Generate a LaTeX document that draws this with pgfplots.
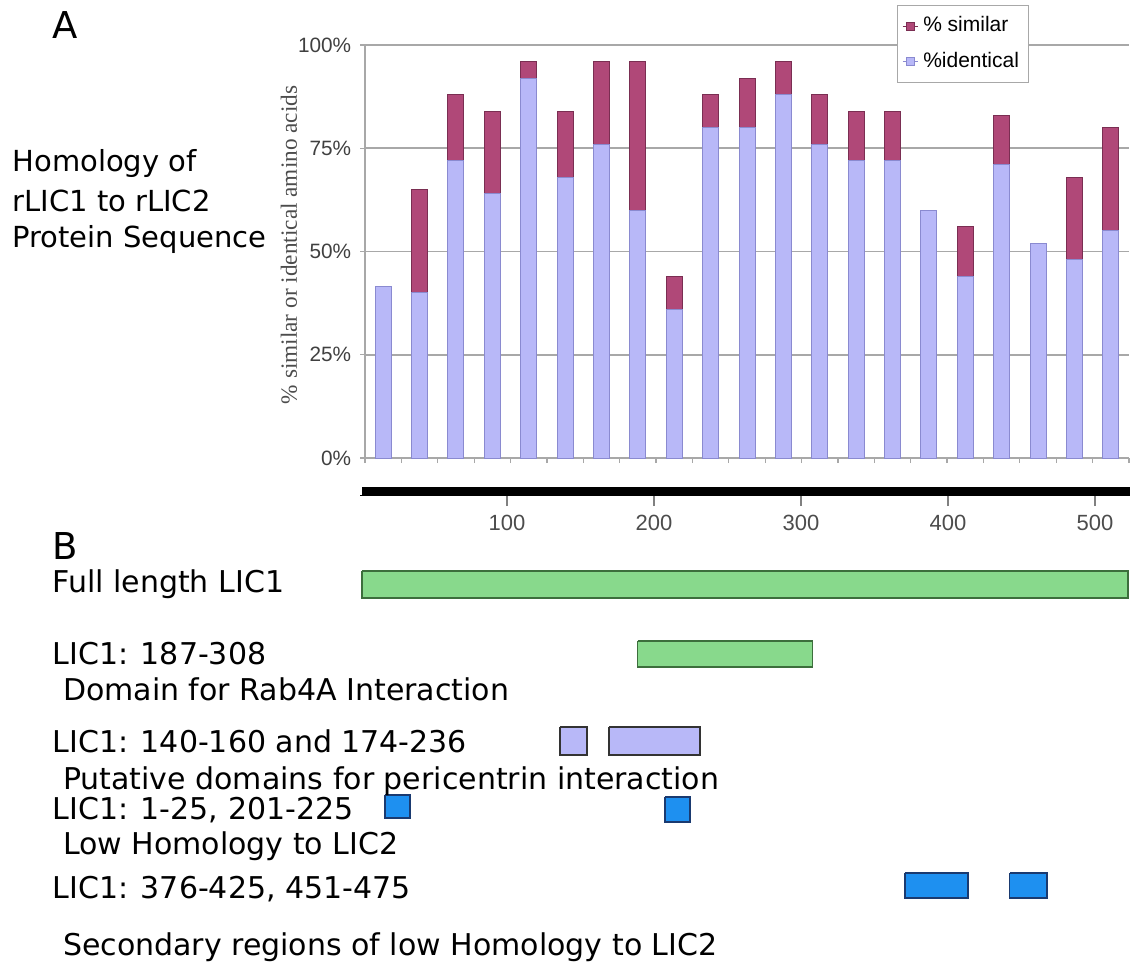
\documentclass[border=0pt]{standalone}
\usepackage{fontspec}
\setmainfont{DejaVu Sans}
\newfontfamily\arialf{Liberation Sans}
\newfontfamily\timesf{Liberation Serif}
\usepackage{pgfplots}
\pgfplotsset{compat=1.18}
\definecolor{simc}{HTML}{B04878}
\definecolor{simd}{HTML}{7A2E52}
\definecolor{idc}{HTML}{B8B8F8}
\definecolor{idd}{HTML}{8A8AD0}
\definecolor{grn}{HTML}{88D98C}
\definecolor{grnd}{HTML}{3C6E3C}
\definecolor{blu}{HTML}{1E90F0}
\definecolor{blud}{HTML}{1A3A70}
\definecolor{gridc}{HTML}{A8A8A8}
\pgfplotstableread{
x ident simil
1 41.5 0
2 40 25
3 72 16
4 64 20
5 92 4
6 68 16
7 76 20
8 60 36
9 36 8
10 80 8
11 80 12
12 88 8
13 76 12
14 72 12
15 72 12
16 60 0
17 44 12
18 71 12
19 52 0
20 48 20
21 55 25
}\homol
\newcommand\labfont{\fontsize{12}{14}\selectfont}
\newcommand\toplabfont{\fontsize{11.6}{14}\selectfont}
\begin{document}
\begin{tikzpicture}
\path[use as bounding box] (0,0) rectangle (452pt,388.8pt);
% ---------- Panel A ----------
\begin{axis}[
 at={(146pt,205.6pt)}, anchor=south west,
 scale only axis, width=305.6pt, height=165.2pt,
 xmin=0.5, xmax=21.5, ymin=0, ymax=100,
 ybar stacked, bar width=6.4pt,
 axis x line*=bottom, axis y line*=left,
 axis line style={gridc, line width=0.6pt},
 xtick={0.5,1.5,...,21.5}, xticklabels={},
 ytick={0,25,50,75,100}, yticklabels={0\%,25\%,50\%,75\%,100\%},
 tick align=outside, major tick length=2pt,
 tick style={gridc, line width=0.5pt},
 ymajorgrids, grid style={gridc, line width=0.6pt},
 yticklabel style={font=\arialf\fontsize{8.3}{9}\selectfont, text=black!75},
 ylabel={\% similar or identical amino acids},
 every axis y label/.style={at={(axis description cs:-0.0995,0.516)}, rotate=90, anchor=center,
   font=\timesf\fontsize{9.3}{10}\selectfont, text=black!70},
 legend style={at={(0.696,1.097)}, anchor=north west, draw=gridc,
   font=\arialf\fontsize{8.4}{10}\selectfont, row sep=2.6pt, inner xsep=2pt, inner ysep=2.5pt},
 legend cell align=left,
 reverse legend,
 legend image code/.code={\path (0pt,0pt) -- (6pt,0pt); \draw[#1] (1.6pt,-1.6pt) rectangle (4.8pt,1.6pt);},
]
\addplot[fill=idc, draw=idd, line width=0.4pt] table[x=x, y=ident] {\homol};
\addplot[fill=simc, draw=simd, line width=0.4pt] table[x=x, y=simil] {\homol};
\legend{\%identical, \% similar}
\end{axis}
% ---------- ruler ----------
\begin{axis}[
 at={(144pt,190.8pt)}, anchor=south west,
 scale only axis, width=308pt, height=3.2pt,
 xmin=0, xmax=523.8, ymin=0, ymax=1,
 axis y line=none, axis x line*=bottom,
 x axis line style={black},
 xtick={100,200,300,400,500}, xticklabels={100,200,300,400,500},
 tick align=outside, major tick length=4.4pt,
 tick style={gray, line width=0.5pt},
 xticklabel style={font=\arialf\fontsize{8.8}{10}\selectfont, text=black!70},
 clip=false,
]
\addplot[fill=black, draw=black] coordinates {(1.4,0) (523.8,0) (523.8,1) (1.4,1) (1.4,0)};
\end{axis}
% ---------- Panel B domains ----------
\begin{axis}[
 at={(144pt,0pt)}, anchor=south west,
 scale only axis, width=308pt, height=200.8pt,
 xmin=0, xmax=523.8, ymin=470, ymax=972, y dir=reverse,
 hide axis, clip=false,
]
\addplot[fill=grn, draw=grnd, line width=0.5pt] coordinates {(1.4,571) (522.5,571) (522.5,598) (1.4,598) (1.4,571)};
\addplot[fill=grn, draw=grnd, line width=0.5pt] coordinates {(189,641) (308,641) (308,667) (189,667) (189,641)};
\addplot[fill=idc, draw=black!80, line width=0.5pt] coordinates {(136,727) (154.4,727) (154.4,755) (136,755) (136,727)};
\addplot[fill=idc, draw=black!80, line width=0.5pt] coordinates {(169.4,727) (231.3,727) (231.3,755) (169.4,755) (169.4,727)};
\addplot[fill=blu, draw=blud, line width=0.5pt] coordinates {(17,795) (34,795) (34,818) (17,818) (17,795)};
\addplot[fill=blu, draw=blud, line width=0.5pt] coordinates {(207.5,797) (224.5,797) (224.5,822) (207.5,822) (207.5,797)};
\addplot[fill=blu, draw=blud, line width=0.5pt] coordinates {(370.7,873) (413.6,873) (413.6,898) (370.7,898) (370.7,873)};
\addplot[fill=blu, draw=blud, line width=0.5pt] coordinates {(442,873) (467.3,873) (467.3,898) (442,898) (442,873)};
\end{axis}
% ---------- texts ----------
\node[anchor=base west, inner sep=0pt, font=\fontsize{14.8}{16}\selectfont] at (20.8pt,373.2pt) {A};
\node[anchor=base west, inner sep=0pt, font=\toplabfont] at (4.8pt,320pt) {Homology of};
\node[anchor=base west, inner sep=0pt, font=\toplabfont] at (4.8pt,304pt) {rLIC1 to rLIC2};
\node[anchor=base west, inner sep=0pt, font=\toplabfont] at (4.8pt,289.6pt) {Protein Sequence};
\node[anchor=base west, inner sep=0pt, font=\fontsize{14.8}{16}\selectfont] at (20.8pt,165.2pt) {B};
\node[anchor=base west, inner sep=0pt, font=\labfont] at (20.8pt,152pt) {Full length LIC1};
\node[anchor=base west, inner sep=0pt, font=\labfont] at (20.8pt,123.2pt) {LIC1: 187-308};
\node[anchor=base west, inner sep=0pt, font=\labfont] at (25pt,108.8pt) {Domain for Rab4A Interaction};
\node[anchor=base west, inner sep=0pt, font=\labfont] at (20.8pt,88pt) {LIC1: 140-160 and 174-236};
\node[anchor=base west, inner sep=0pt, font=\labfont] at (25pt,73.2pt) {Putative domains for pericentrin interaction};
\node[anchor=base west, inner sep=0pt, font=\labfont] at (20.8pt,61.2pt) {LIC1: 1-25, 201-225};
\node[anchor=base west, inner sep=0pt, font=\labfont] at (25pt,47.2pt) {Low Homology to LIC2};
\node[anchor=base west, inner sep=0pt, font=\labfont] at (20.8pt,29.6pt) {LIC1: 376-425, 451-475};
\node[anchor=base west, inner sep=0pt, font=\labfont] at (25pt,6.8pt) {Secondary regions of low Homology to LIC2};
\end{tikzpicture}
\end{document}
